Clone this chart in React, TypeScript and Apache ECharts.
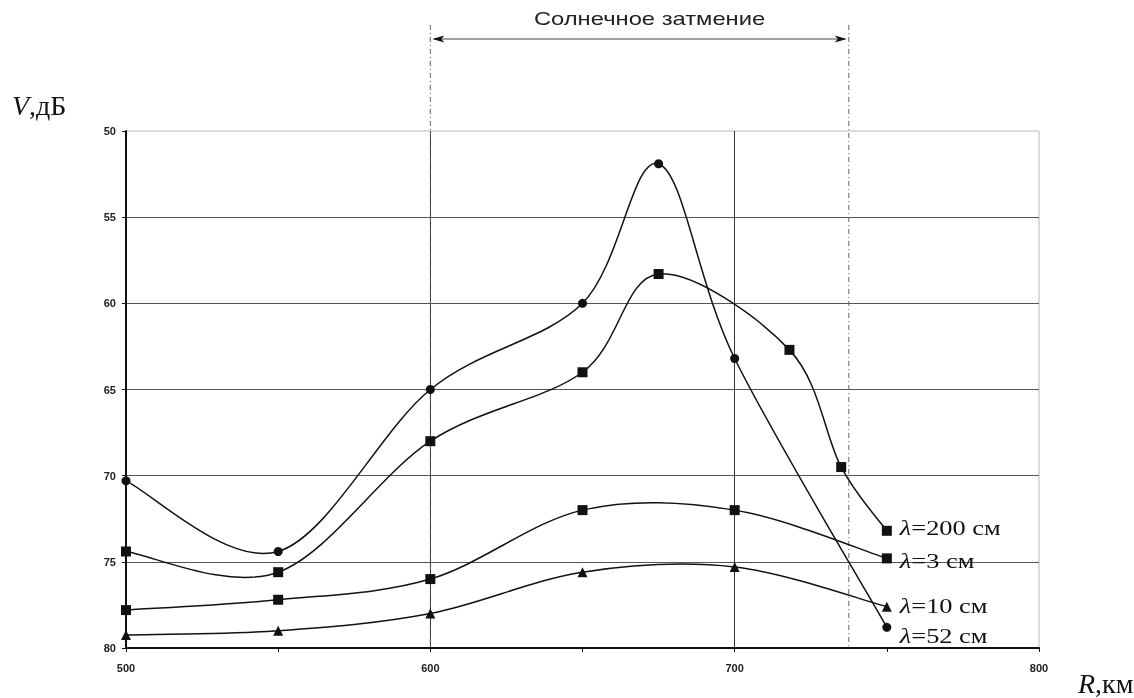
import React, { useEffect, useRef } from 'react';
import * as echarts from 'echarts';

// Axis ranges
const X_MIN = 500;
const X_MAX = 800;
const X_STEP = 100;
const Y_MIN = 50;
const Y_MAX = 80;
const Y_STEP = 5;

// Eclipse interval (km)
const ECLIPSE_START = 600;
const ECLIPSE_END = 737.5;
const ECLIPSE_TEXT = 'Солнечное затмение';

// λ = 200 cm
const R_200 = [500, 550, 600, 650, 675, 718, 735, 750];
const V_200 = [74.4, 75.6, 68, 64, 58.3, 62.7, 69.5, 73.2];
// λ = 52 cm
const R_52 = [500, 550, 600, 650, 675, 700, 750];
const V_52 = [70.3, 74.4, 65, 60, 51.9, 63.2, 78.8];
// λ = 3 cm and λ = 10 cm
const R_STD = [500, 550, 600, 650, 700, 750];
const V_3 = [77.8, 77.2, 76, 72, 72, 74.8];
const V_10 = [79.25, 79.0, 78, 75.6, 75.3, 77.6];

const LABELS = ['200 см', '3 см', '10 см', '52 см'];

export default function App() {
  const ref = useRef<HTMLDivElement>(null);
  useEffect(() => {
    const chart = echarts.init(ref.current!, null, { renderer: 'svg' });
    const pairs = (xs: number[], ys: number[]) => xs.map((x, i) => [x, ys[i]]);

    // Smoothed curve (Catmull-Rom style Bezier segments) through the data points
    const curve = (name: string, xs: number[], ys: number[]) => ({
      type: 'custom',
      name,
      data: pairs(xs, ys),
      encode: { x: 0, y: 1 },
      silent: true,
      z: 2,
      renderItem: (params: any, api: any) => {
        const n = xs.length;
        const i = params.dataIndex;
        if (i >= n - 1) return null;
        const P = (k: number) => {
          const kk = Math.max(0, Math.min(n - 1, k));
          return api.coord([xs[kk], ys[kk]]);
        };
        const p0 = P(i - 1), p1 = P(i), p2 = P(i + 1), p3 = P(i + 2);
        return {
          type: 'bezierCurve',
          shape: {
            x1: p1[0], y1: p1[1], x2: p2[0], y2: p2[1],
            cpx1: p1[0] + (p2[0] - p0[0]) / 6,
            cpy1: p1[1] + (p2[1] - p0[1]) / 6,
            cpx2: p2[0] - (p3[0] - p1[0]) / 6,
            cpy2: p2[1] - (p3[1] - p1[1]) / 6,
          },
          style: { stroke: '#111', lineWidth: 1.5, fill: 'none' },
        };
      },
    });
    const markers = (name: string, xs: number[], ys: number[], symbol: string, size: number) => ({
      type: 'scatter',
      name,
      data: pairs(xs, ys),
      symbol,
      symbolSize: size,
      itemStyle: { color: '#111', opacity: 1 },
      z: 3,
      clip: false,
    });
    const series = [
      curve('λ=200 см', R_200, V_200),
      curve('λ=3 см', R_STD, V_3),
      curve('λ=10 см', R_STD, V_10),
      curve('λ=52 см', R_52, V_52),
      markers('λ=200 см', R_200, V_200, 'rect', 10),
      markers('λ=3 см', R_STD, V_3, 'rect', 10),
      markers('λ=10 см', R_STD, V_10, 'triangle', 10),
      markers('λ=52 см', R_52, V_52, 'circle', 9),
    ];
    const labelFont = 'Liberation Sans Narrow, Liberation Sans, Arial, sans-serif';
    chart.setOption({
      animation: false,
      grid: {
        left: 126,
        top: 131,
        right: 95,
        bottom: 50,
        show: true,
        borderColor: '#b8b8b8',
        borderWidth: 1,
        backgroundColor: 'transparent',
      },
      xAxis: {
        type: 'value',
        min: X_MIN,
        max: X_MAX,
        interval: X_STEP,
        axisLine: { show: true, onZero: false, lineStyle: { color: '#111', width: 2 } },
        axisTick: { show: true, length: 4, lineStyle: { color: '#111' } },
        minorTick: { show: true, splitNumber: 2, length: 4, lineStyle: { color: '#111' } },
        splitLine: { show: true, showMinLine: false, showMaxLine: false, lineStyle: { color: '#333', width: 1 } },
        axisLabel: { fontSize: 11, fontWeight: 'bold', color: '#222', margin: 14, fontFamily: labelFont },
      },
      yAxis: {
        type: 'value',
        inverse: true,
        min: Y_MIN,
        max: Y_MAX,
        interval: Y_STEP,
        axisLine: { show: true, onZero: false, lineStyle: { color: '#111', width: 2 } },
        axisTick: { show: true, length: 4, lineStyle: { color: '#111' } },
        splitLine: { show: true, showMinLine: false, showMaxLine: false, lineStyle: { color: '#555', width: 1 } },
        axisLabel: { fontSize: 11, fontWeight: 'bold', color: '#222', margin: 10, fontFamily: labelFont },
      },
      series,
    });

    const px = (x: number, y: number) => chart.convertToPixel({ gridIndex: 0 }, [x, y]) as number[];
    const s = px(ECLIPSE_START, Y_MAX);
    const e = px(ECLIPSE_END, Y_MAX);
    const arrowY = 39;
    const dashTop = 25;
    const dash = { stroke: '#666', lineWidth: 1, lineDash: [5, 3, 1, 3] };
    const graphics: any[] = [
      { type: 'line', shape: { x1: s[0], y1: dashTop, x2: s[0], y2: s[1] }, style: dash, z: 1 },
      { type: 'line', shape: { x1: e[0], y1: dashTop, x2: e[0], y2: e[1] }, style: dash, z: 1 },
      { type: 'line', shape: { x1: s[0] + 4, y1: arrowY, x2: e[0] - 4, y2: arrowY }, style: { stroke: '#444', lineWidth: 1 } },
      { type: 'polygon', shape: { points: [[s[0] + 2, arrowY], [s[0] + 14, arrowY - 3.5], [s[0] + 11, arrowY], [s[0] + 14, arrowY + 3.5]] }, style: { fill: '#111' } },
      { type: 'polygon', shape: { points: [[e[0] - 2, arrowY], [e[0] - 14, arrowY - 3.5], [e[0] - 11, arrowY], [e[0] - 14, arrowY + 3.5]] }, style: { fill: '#111' } },
      {
        type: 'text',
        x: (s[0] + e[0]) / 2 + 10,
        y: 19,
        scaleX: 1.25,
        style: { text: ECLIPSE_TEXT, x: 0, y: 0, font: '19px "Liberation Sans", Arial, sans-serif', fill: '#222', textAlign: 'center', textVerticalAlign: 'middle' },
      },
      {
        type: 'text',
        x: 12,
        y: 105,
        style: {
          text: '{i|V},дБ', x: 0, y: 0, fill: '#111', textAlign: 'left', textVerticalAlign: 'middle',
          font: '28px "Liberation Serif", serif',
          rich: { i: { fontStyle: 'italic', fontSize: 28, fontFamily: 'Liberation Serif' } },
        },
      },
      {
        type: 'text',
        x: 1078,
        y: 683,
        style: {
          text: '{i|R},км', x: 0, y: 0, fill: '#111', textAlign: 'left', textVerticalAlign: 'middle',
          font: '28px "Liberation Serif", serif',
          rich: { i: { fontStyle: 'italic', fontSize: 28, fontFamily: 'Liberation Serif' } },
        },
      },
    ];
    const lastPts = [
      [R_200[R_200.length - 1], V_200[V_200.length - 1], -4],
      [R_STD[R_STD.length - 1], V_3[V_3.length - 1], 2],
      [R_STD[R_STD.length - 1], V_10[V_10.length - 1], -1],
      [R_52[R_52.length - 1], V_52[V_52.length - 1], 8],
    ];
    lastPts.forEach((p, i) => {
      const q = px(p[0], p[1]);
      graphics.push({
        type: 'text',
        x: q[0] + 13,
        y: q[1] + p[2],
        scaleX: 1.2,
        style: {
          text: '{i|λ}=' + LABELS[i], x: 0, y: 0, fill: '#111', textAlign: 'left', textVerticalAlign: 'middle',
          font: '22px "Liberation Serif", serif',
          rich: { i: { fontStyle: 'italic', fontSize: 22, fontFamily: 'Liberation Serif' } },
        },
      });
    });
    chart.setOption({ graphic: graphics });
    return () => chart.dispose();
  }, []);
  return <div ref={ref} style={{ position: 'fixed', left: 0, top: 0, width: 1134, height: 698 }} />;
}
